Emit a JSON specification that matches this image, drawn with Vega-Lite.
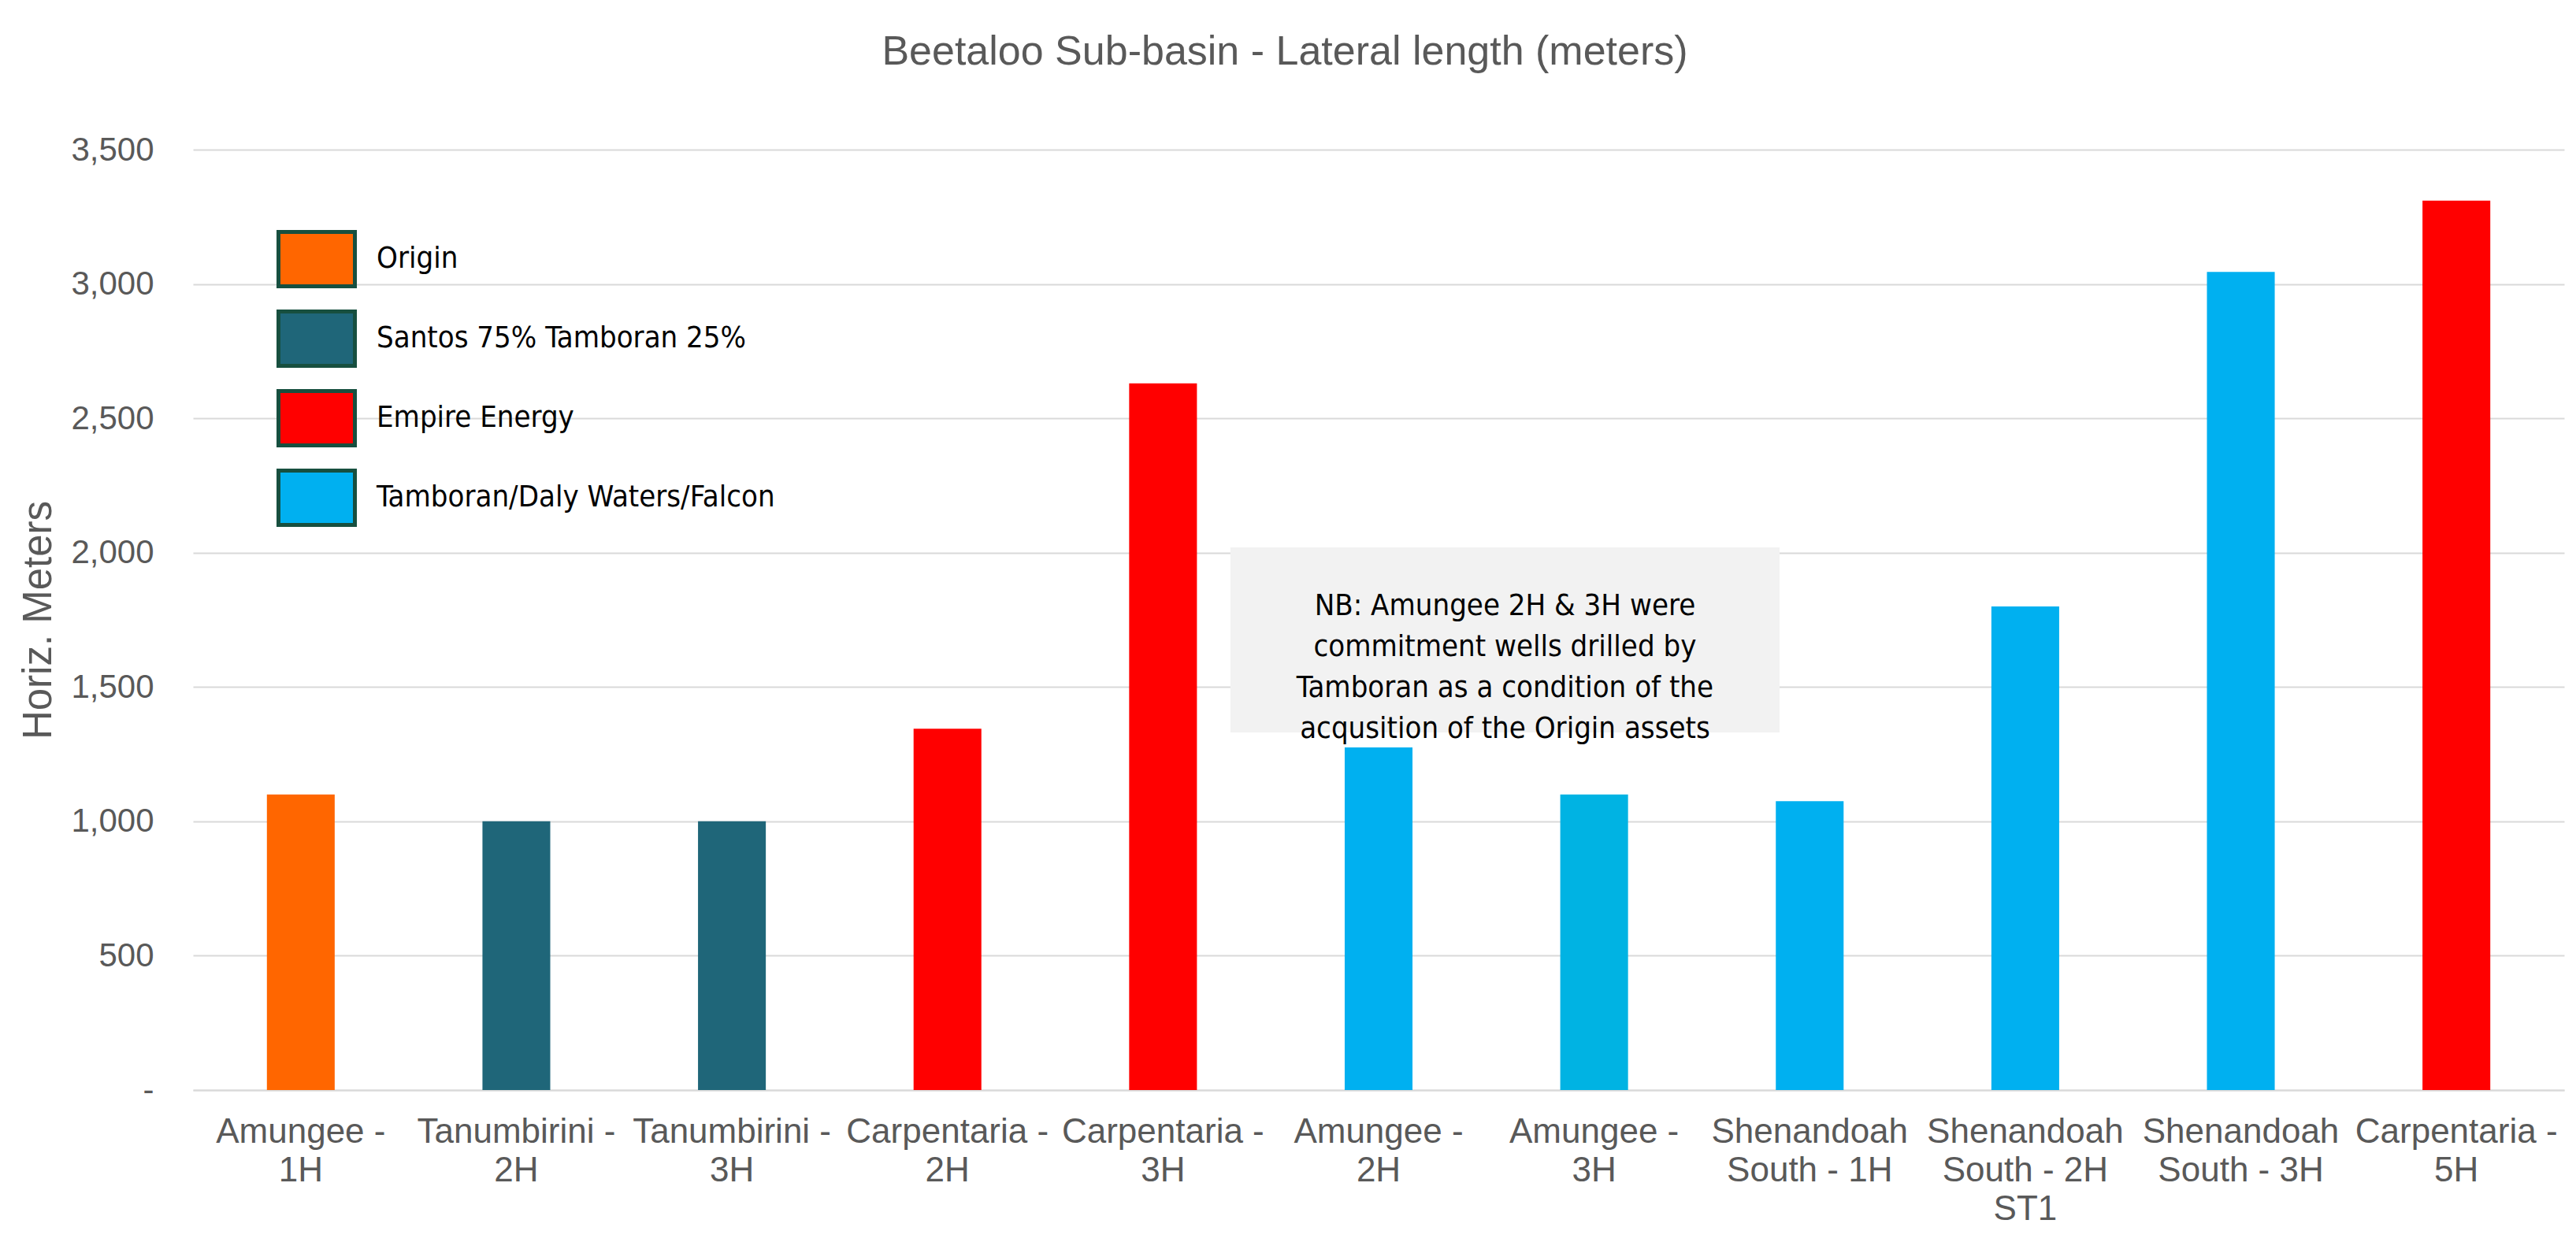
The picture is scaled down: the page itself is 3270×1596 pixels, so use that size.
{
  "$schema": "https://vega.github.io/schema/vega-lite/v6.json",
  "autosize": {"type": "none"},
  "width": 3010,
  "height": 1194,
  "padding": {"left": 245, "top": 190, "right": 15, "bottom": 212},
  "background": "white",
  "title": {
    "text": "Beetaloo Sub-basin - Lateral length (meters)",
    "font": "Liberation Sans",
    "fontSize": 52,
    "fontWeight": "normal",
    "color": "#595959",
    "anchor": "middle",
    "frame": "group",
    "baseline": "alphabetic",
    "offset": 35,
    "dx": -119
  },
  "config": {"view": {"stroke": null}, "font": "Liberation Sans"},
  "layer": [
    {
      "data": {
        "values": [
          {"well": "Amungee -|1H", "operator": "Origin", "meters": 1100},
          {"well": "Tanumbirini -|2H", "operator": "Santos 75% Tamboran 25%", "meters": 1000},
          {"well": "Tanumbirini -|3H", "operator": "Santos 75% Tamboran 25%", "meters": 1000},
          {"well": "Carpentaria -|2H", "operator": "Empire Energy", "meters": 1345},
          {"well": "Carpentaria -|3H", "operator": "Empire Energy", "meters": 2630},
          {"well": "Amungee -|2H", "operator": "Tamboran/Daly Waters/Falcon", "meters": 1275},
          {"well": "Amungee -|3H", "operator": "Tamboran/Daly Waters/Falcon", "meters": 1100},
          {"well": "Shenandoah|South - 1H", "operator": "Tamboran/Daly Waters/Falcon", "meters": 1075},
          {"well": "Shenandoah|South - 2H|ST1", "operator": "Tamboran/Daly Waters/Falcon", "meters": 1800},
          {"well": "Shenandoah|South - 3H", "operator": "Tamboran/Daly Waters/Falcon", "meters": 3045},
          {"well": "Carpentaria -|5H", "operator": "Empire Energy", "meters": 3310}
        ]
      },
      "mark": {"type": "bar"},
      "encoding": {
        "x": {
          "field": "well",
          "type": "nominal",
          "sort": null,
          "scale": {"paddingInner": 0.6855, "paddingOuter": 0.3428},
          "axis": {
            "title": null,
            "labelExpr": "split(datum.label, '|')",
            "labelAngle": 0,
            "labelFont": "Liberation Sans",
            "labelFontSize": 44,
            "labelColor": "#595959",
            "labelLineHeight": 49,
            "labelPadding": 31,
            "labelBaseline": "top",
            "labelLimit": 0,
            "labelOverlap": false,
            "ticks": false,
            "domain": true,
            "domainColor": "#D9D9D9",
            "domainWidth": 2,
            "grid": false
          }
        },
        "y": {
          "field": "meters",
          "type": "quantitative",
          "scale": {"domain": [0, 3500], "nice": false},
          "axis": {
            "title": "Horiz. Meters",
            "values": [0, 500, 1000, 1500, 2000, 2500, 3000, 3500],
            "labelExpr": "datum.value === 0 ? '-\u00a0\u00a0' : format(datum.value, ',')",
            "labelFont": "Liberation Sans",
            "labelFontSize": 42,
            "labelColor": "#595959",
            "labelPadding": 50,
            "ticks": false,
            "domain": false,
            "grid": true,
            "gridColor": "#D9D9D9",
            "gridWidth": 2,
            "titleFont": "Liberation Sans",
            "titleFontSize": 51,
            "titleFontWeight": "normal",
            "titleColor": "#595959",
            "titleX": -196,
            "titleY": 597,
            "titleAngle": 270,
            "titleBaseline": "middle",
            "titleAlign": "center"
          }
        },
        "color": {
          "condition": {"test": "datum.well === 'Amungee -|3H'", "value": "#00B3E3"},
          "field": "operator",
          "type": "nominal",
          "scale": {
            "domain": ["Origin", "Santos 75% Tamboran 25%", "Empire Energy", "Tamboran/Daly Waters/Falcon"],
            "range": ["#FF6600", "#1F6679", "#FF0000", "#00B0F0"]
          },
          "legend": {
            "title": null,
            "orient": "none",
            "legendX": 106,
            "legendY": 88,
            "direction": "vertical",
            "padding": 0,
            "symbolType": "M-1,-0.71H1V0.71H-1Z",
            "symbolSize": 9409,
            "symbolOpacity": 1,
            "symbolStrokeColor": "#174F3F",
            "symbolStrokeWidth": 5,
            "labelFont": "DejaVu Sans Condensed",
            "labelFontSize": 38,
            "labelColor": "#000000",
            "labelOffset": 25,
            "labelLimit": 0,
            "rowPadding": 5,
            "encode": {
              "symbols": {"update": {"stroke": {"value": "#174F3F"}, "strokeWidth": {"value": 5}}}
            }
          }
        }
      }
    },
    {
      "data": {
        "values": [
          {"note": "NB: Amungee 2H & 3H were\ncommitment wells drilled by\nTamboran as a condition of the\nacqusition of the Origin assets"}
        ]
      },
      "layer": [
        {
          "mark": {"type": "rect", "fill": "#F2F2F2"},
          "encoding": {
            "x": {"datum": 0.4375, "type": "quantitative", "scale": {"domain": [0, 1]}, "axis": null},
            "x2": {"datum": 0.6691},
            "y": {"datum": 2020, "type": "quantitative"},
            "y2": {"datum": 1331}
          }
        },
        {
          "mark": {
            "type": "text",
            "font": "DejaVu Sans Condensed",
            "fontSize": 38,
            "color": "#000000",
            "lineBreak": "\n",
            "lineHeight": 52,
            "align": "center",
            "baseline": "middle"
          },
          "encoding": {
            "x": {"datum": 0.5533, "type": "quantitative", "scale": {"domain": [0, 1]}, "axis": null},
            "y": {"datum": 1801, "type": "quantitative"},
            "text": {"field": "note", "type": "nominal"}
          }
        }
      ]
    }
  ],
  "resolve": {"scale": {"x": "independent"}}
}
